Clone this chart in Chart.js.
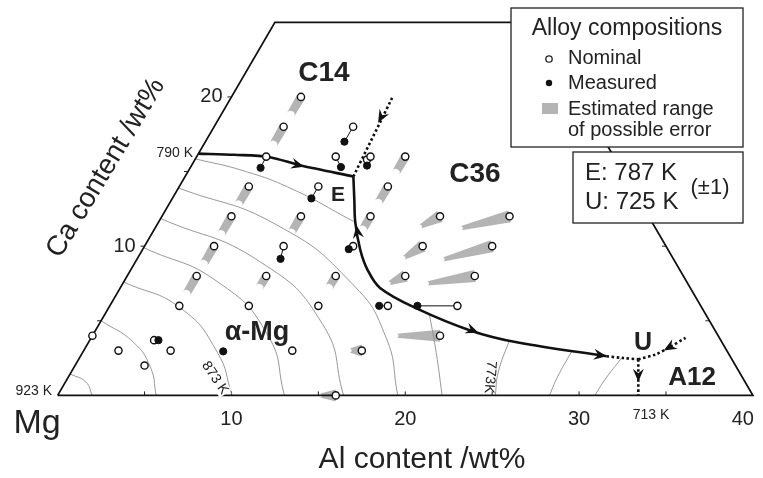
<!DOCTYPE html>
<html>
<head>
<meta charset="utf-8">
<script src="https://cdn.jsdelivr.net/npm/chart.js@4.4.0/dist/chart.umd.min.js"></script>
<style>
html, body { margin: 0; padding: 0; background: #fff; }
#wrap { width: 763px; height: 478px; position: relative; }
</style>
</head>
<body>
<div id="wrap"><canvas id="chart"></canvas></div>
<script>
'use strict';

// every composition is [Al wt%, Ca wt%], balance Mg
var outline = [[0, 0], [0, 25], [15, 25], [40, 0], [0, 0]];

var nominal = [
    [4, 20],
    [4, 18], [8, 18],
    [4, 16], [8, 16], [9.9, 15.8], [10, 16], [12, 16],
    [4, 14], [8, 14], [12, 14],
    [4, 12], [8, 12], [12, 12], [16, 12], [20, 12],
    [4, 10], [8, 10], [12, 10], [16, 10], [20, 10],
    [4, 8], [8, 8], [12, 8], [16, 8], [20, 8],
    [4, 6], [8, 6], [12, 6], [16, 6], [20, 6],
    [0, 4], [3.7, 3.7], [20, 4],
    [2, 3], [5, 3], [12, 3], [16, 3],
    [4, 2],
    [16, 0]
];
var measured = [
    [8.0, 17.0], [4.05, 15.25], [8.65, 15.3], [10.1, 15.4], [8.0, 13.2],
    [8.25, 9.15], [11.85, 9.8], [15.5, 6.0], [17.7, 6.0], [3.95, 3.7], [8.05, 2.95]
];
// nominal alloy each measured point belongs to
var measuredOf = [
    [8, 18], [4, 16], [8, 16], [10, 16], [8, 14],
    [8, 10], [12, 10], [16, 6], [20, 6], [3.7, 3.7], null
];

// estimated error: Ca loss (C14 / alpha-Mg side) and Al loss (C36 side)
var errorCa = [
    [[4, 20], [4, 18.8]], [[4, 18], [4, 16.8]], [[4, 14], [4, 12.8]], [[4, 12], [4, 10.8]],
    [[4, 10], [4, 8.8]], [[4, 8], [4, 6.8]], [[8, 12], [8, 10.9]], [[8, 8], [8, 7.2]],
    [[12, 16], [12, 14.9]], [[12, 14], [12, 12.9]], [[12, 12], [12, 11.1]], [[12, 8], [12, 7.2]]
];
var errorAl = [
    [[16, 12], [15.2, 11.3]], [[20, 12], [17.6, 11.2]], [[16, 10], [15.3, 9.2]], [[20, 10], [17.6, 9.1]],
    [[16, 8], [15.3, 7.5]], [[20, 8], [17.5, 7.5]], [[20, 4], [17.5, 4.0]], [[16, 3], [15.3, 3.0]],
    [[16, 0], [15.1, 0]]
];

// univariant lines
var line790E = [[0, 16.2], [2.1, 16.12], [4.15, 15.98], [6.3, 15.4], [9.68, 14.67]];
var lineEU = [[9.68, 14.67], [10.52, 13.1], [11.33, 11.59], [12.53, 9.76], [13.59, 8.45],
    [14.95, 7.2], [17.73, 5.83], [21.66, 4.32], [24.72, 3.54], [30.28, 2.62]];
var dottedE = [[9.68, 14.67], [9.27, 20.04]];
var dottedToU = [[30.28, 2.62], [31.3, 2.5], [32.2, 2.42]];
var dottedUright = [[32.2, 2.42], [33.05, 2.75], [33.57, 3.21], [34.2, 3.86]];
var dottedUdown = [[32.2, 2.42], [33.41, 0]];

// [from, tip]
var arrows = [
    [[4.15, 15.98], [6.52, 15.32]],
    [[12.53, 9.76], [11.49, 11.4]],
    [[17.73, 5.83], [22.12, 4.19]],
    [[24.72, 3.54], [30.28, 2.62]],
    [[34.2, 3.86], [33.37, 3.01]],
    [[32.2, 2.42], [32.95, 0.92]],
    [[9.27, 20.04], [9.3, 18.27]]
];

// liquidus isotherms
var isotherms = [
    [[0, 1.44], [1.18, 0.89], [1.99, 0]],
    [[0, 5.0], [2.55, 3.58], [4.38, 1.9], [5.67, 0]],
    [[0, 7.6], [4.18, 5.83], [7.75, 2.88], [10.04, 0]],
    [[0, 9.9], [5.42, 7.6], [10.09, 4.02], [13.05, 0]],
    [[0, 11.85], [7.14, 8.97], [12.87, 4.76], [16.45, 0]],
    [[0, 13.9], [6.86, 11.44], [13.22, 7.47], [16.97, 3.86], [19.57, 0]],
    [[0, 15.85], [3.13, 15.06], [6.55, 13.84], [11.19, 11.66]],
    [[18.63, 5.5], [20.34, 2.88], [22.12, 0]],
    [[24.15, 3.66], [24.57, 1.57], [25.18, 0]],
    [[28.1, 2.95], [28.14, 1.24], [28.3, 0]],
    [[31.2, 2.52], [30.96, 1.05], [30.91, 0]]
];

var tickAl = [10, 20, 30, 40];
var tickCa = [10, 20];
var minorAl = [5, 10, 15, 20, 25, 30, 35];
var minorCa = [5, 10, 15, 20];

var FONT = '"Liberation Sans", Arial, Helvetica, sans-serif';
var SQ3 = Math.sqrt(3) / 2;

function toXY(p) {
    return { x: p[0] + p[1] / 2, y: p[1] * SQ3 };
}

var datasets = [];
function addLine(pts, opts) {
    datasets.push(Object.assign({
        data: pts.map(toXY), showLine: true, pointRadius: 0, fill: false,
        borderColor: '#111', borderWidth: 1, tension: 0, order: 5
    }, opts));
}

isotherms.forEach(function (iso) {
    addLine(iso, { borderColor: '#8c8c8c', borderWidth: 0.9, tension: 0.5, order: 9 });
});
addLine(outline, { borderWidth: 1.8, order: 6 });
measured.forEach(function (m, i) {
    if (measuredOf[i]) addLine([measuredOf[i], m], { borderWidth: 1, order: 4 });
});
addLine(line790E, { borderWidth: 2.6, tension: 0.3, order: 3 });
addLine(lineEU, { borderWidth: 2.6, tension: 0.35, order: 3 });
[dottedE, dottedToU, dottedUright, dottedUdown].forEach(function (d) {
    addLine(d, { borderWidth: 2.6, borderDash: [2.5, 2.5], tension: 0.3, order: 3 });
});
datasets.push({
    data: nominal.map(toXY), showLine: false, pointStyle: 'circle', pointRadius: 3.6,
    pointBackgroundColor: '#fff', pointBorderColor: '#111', pointBorderWidth: 1.4, order: 1
});
datasets.push({
    data: measured.map(toXY), showLine: false, pointStyle: 'circle', pointRadius: 3.6,
    pointBackgroundColor: '#111', pointBorderColor: '#111', pointBorderWidth: 1, order: 0
});

function pix(chart, p) {
    var q = toXY(p);
    return [chart.scales.x.getPixelForValue(q.x), chart.scales.y.getPixelForValue(q.y)];
}

function wedge(ctx, a, b, w0, w1) {
    var dx = b[0] - a[0], dy = b[1] - a[1], len = Math.hypot(dx, dy);
    var nx = -dy / len, ny = dx / len;
    ctx.beginPath();
    ctx.moveTo(a[0] + nx * w0, a[1] + ny * w0);
    ctx.lineTo(b[0] + nx * w1, b[1] + ny * w1);
    ctx.arc(b[0], b[1], w1, Math.atan2(ny, nx), Math.atan2(-ny, -nx));
    ctx.lineTo(a[0] - nx * w0, a[1] - ny * w0);
    ctx.closePath();
    ctx.fill();
}

function text(ctx, s, x, y, font, align, rot) {
    ctx.save();
    ctx.translate(x, y);
    if (rot) ctx.rotate(rot * Math.PI / 180);
    ctx.font = font;
    ctx.textAlign = align || 'center';
    ctx.textBaseline = 'middle';
    ctx.fillText(s, 0, 0);
    ctx.restore();
}

var overlay = {
    id: 'overlay',
    beforeDatasetsDraw: function (chart) {
        var ctx = chart.ctx;
        ctx.save();
        ctx.fillStyle = 'rgba(155,155,155,0.75)';
        errorCa.forEach(function (r) {
            wedge(ctx, pix(chart, r[0]), pix(chart, r[1]), 4.5, 4);
        });
        errorAl.forEach(function (r) {
            wedge(ctx, pix(chart, r[0]), pix(chart, r[1]), 6, 2);
        });
        // minor ticks
        ctx.strokeStyle = '#222';
        ctx.lineWidth = 1;
        ctx.beginPath();
        minorAl.forEach(function (v) {
            var p = pix(chart, [v, 0]);
            ctx.moveTo(p[0], p[1]); ctx.lineTo(p[0], p[1] - 4);
        });
        minorCa.forEach(function (v) {
            var p = pix(chart, [0, v]);
            ctx.moveTo(p[0], p[1]); ctx.lineTo(p[0] - 4, p[1]);
            var r = pix(chart, [40 - v, v]);
            ctx.moveTo(r[0], r[1]); ctx.lineTo(r[0] - 4, r[1]);
        });
        ctx.stroke();
        ctx.restore();
    },
    afterDatasetsDraw: function (chart) {
        var ctx = chart.ctx;
        ctx.save();
        ctx.fillStyle = '#111';
        arrows.forEach(function (a) {
            var f = pix(chart, a[0]), t = pix(chart, a[1]);
            ctx.save();
            ctx.translate(t[0], t[1]);
            ctx.rotate(Math.atan2(t[1] - f[1], t[0] - f[0]));
            ctx.beginPath();
            ctx.moveTo(0, 0);
            ctx.lineTo(-13, -5.5);
            ctx.lineTo(-8.5, 0);
            ctx.lineTo(-13, 5.5);
            ctx.closePath();
            ctx.fill();
            ctx.restore();
        });

        // axis numbers
        ctx.fillStyle = '#222';
        tickAl.forEach(function (v) {
            var p = pix(chart, [v, 0]);
            text(ctx, String(v), v === 40 ? p[0] - 10 : p[0], p[1] + 24, '20px ' + FONT);
        });
        tickCa.forEach(function (v) {
            var p = pix(chart, [0, v]);
            text(ctx, String(v), p[0] - 20, p[1], '20px ' + FONT);
        });
        text(ctx, 'Mg', 37, 424, '34px ' + FONT);
        text(ctx, 'Al content /wt%', 422, 460, '30px ' + FONT);
        text(ctx, 'Ca content /wt%', 106, 168, '28px ' + FONT, 'center', -59);

        // temperatures
        text(ctx, '923 K', 52, 391, '14px ' + FONT, 'right');
        text(ctx, '790 K', 193, 153, '14px ' + FONT, 'right');
        text(ctx, '713 K', 651, 415, '14px ' + FONT);
        ctx.save();
        ctx.translate(215, 378);
        ctx.rotate(56 * Math.PI / 180);
        ctx.fillStyle = '#fff';
        ctx.fillRect(-19, -7, 38, 14);
        ctx.restore();
        text(ctx, '873 K', 215, 378, '14px ' + FONT, 'center', 56);
        text(ctx, '773K', 490, 377, '14px ' + FONT, 'center', 95);

        // phase fields
        text(ctx, 'C14', 324, 73, 'bold 28px ' + FONT);
        text(ctx, 'C36', 475, 174, 'bold 28px ' + FONT);
        text(ctx, 'E', 338, 195, 'bold 21px ' + FONT);
        text(ctx, '\u03b1-Mg', 257, 333, 'bold 27px ' + FONT);
        text(ctx, 'U', 643, 343, 'bold 25px ' + FONT);
        text(ctx, 'A12', 692, 378, 'bold 26px ' + FONT);

        // legend boxes
        ctx.fillStyle = '#fff';
        ctx.strokeStyle = '#222';
        ctx.lineWidth = 1.3;
        ctx.fillRect(511, 8, 232, 139);
        ctx.strokeRect(511, 8, 232, 139);
        ctx.fillRect(573, 152, 170, 71);
        ctx.strokeRect(573, 152, 170, 71);

        ctx.fillStyle = '#222';
        text(ctx, 'Alloy compositions', 627, 29, '23px ' + FONT);
        text(ctx, 'Nominal', 568, 58, '20px ' + FONT, 'left');
        text(ctx, 'Measured', 568, 83, '20px ' + FONT, 'left');
        text(ctx, 'Estimated range', 568, 109, '20px ' + FONT, 'left');
        text(ctx, 'of possible error', 568, 130, '20px ' + FONT, 'left');
        ctx.beginPath();
        ctx.arc(549, 59, 3.2, 0, 2 * Math.PI);
        ctx.fillStyle = '#fff';
        ctx.fill();
        ctx.lineWidth = 1.3;
        ctx.stroke();
        ctx.beginPath();
        ctx.arc(549, 83, 3.2, 0, 2 * Math.PI);
        ctx.fillStyle = '#111';
        ctx.fill();
        ctx.fillStyle = 'rgba(155,155,155,0.75)';
        ctx.fillRect(542, 103, 16, 11);

        ctx.fillStyle = '#222';
        text(ctx, 'E: 787 K', 585, 173, '24px ' + FONT, 'left');
        text(ctx, 'U: 725 K', 585, 202, '24px ' + FONT, 'left');
        text(ctx, '(\u00b11)', 710, 188, '22px ' + FONT);
        ctx.restore();
    }
};

new Chart(document.getElementById('chart'), {
    type: 'scatter',
    data: { datasets: datasets },
    options: {
        responsive: true,
        maintainAspectRatio: false,
        animation: false,
        events: [],
        layout: { padding: 0 },
        scales: {
            x: { type: 'linear', display: false, min: -53 / 17.63, max: 710 / 17.63 },
            y: { type: 'linear', display: false, min: -79 / 17.63, max: 399 / 17.63 }
        },
        plugins: { legend: { display: false }, tooltip: { enabled: false } }
    },
    plugins: [overlay]
});
</script>
</body>
</html>
